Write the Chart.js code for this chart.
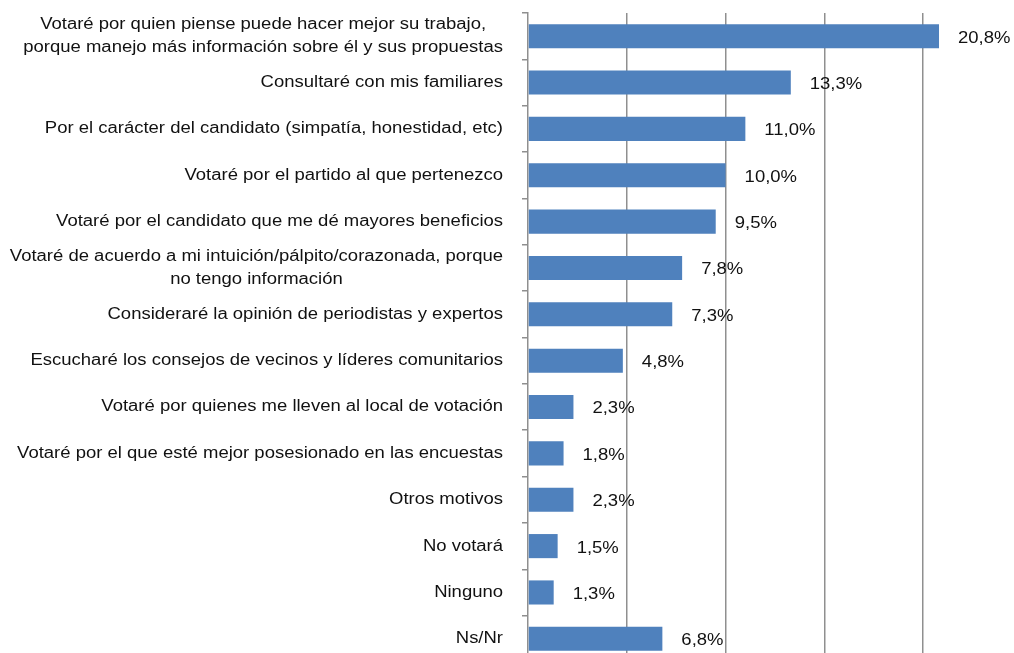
<!DOCTYPE html>
<html>
<head>
<meta charset="utf-8">
<script src="https://cdn.jsdelivr.net/npm/chart.js@4/dist/chart.umd.min.js"></script>
<style>
  html, body { margin: 0; padding: 0; background: #fff; }
  #wrap { width: 1014px; height: 653px; overflow: hidden; position: relative; }
  #chart { display: block; }
</style>
</head>
<body>
<div id="wrap"><canvas id="chart" width="1022" height="662"></canvas></div>
<script>
const categories = [
  ['Votaré por quien piense puede hacer mejor su trabajo,', 'porque manejo más información sobre él y sus propuestas'],
  ['Consultaré con mis familiares'],
  ['Por el carácter del candidato (simpatía, honestidad, etc)'],
  ['Votaré por el partido al que pertenezco'],
  ['Votaré por el candidato que me dé mayores beneficios'],
  ['Votaré de acuerdo a mi intuición/pálpito/corazonada, porque', 'no tengo información'],
  ['Consideraré la opinión de periodistas y expertos'],
  ['Escucharé los consejos de vecinos y líderes comunitarios'],
  ['Votaré por quienes me lleven al local de votación'],
  ['Votaré por el que esté mejor posesionado en las encuestas'],
  ['Otros motivos'],
  ['No votará'],
  ['Ninguno'],
  ['Ns/Nr']
];
const values = [20.8, 13.3, 11.0, 10.0, 9.5, 7.8, 7.3, 4.8, 2.3, 1.8, 2.3, 1.5, 1.3, 6.8];
const valueLabels = values.map(v => v.toFixed(1).replace('.', ',') + '%');

const FONT = '16px "Liberation Sans", Arial, sans-serif';
const STRETCH = 1.155; // the reference text is a bit wider than the font

function wideText(ctx, text, x, y, align) {
  const w = ctx.measureText(text).width * STRETCH;
  let left = x;
  if (align === 'center') left = x - w / 2;
  if (align === 'right') left = x - w;
  ctx.save();
  ctx.translate(left, y);
  ctx.scale(STRETCH, 1);
  ctx.textAlign = 'left';
  ctx.fillText(text, 0, 0);
  ctx.restore();
}

// draws the category labels (centred lines, right aligned block) and the value labels
const labelPlugin = {
  id: 'labels',
  afterDatasetsDraw(chart) {
    const ctx = chart.ctx;
    const y = chart.scales.y;
    const meta = chart.getDatasetMeta(0);
    ctx.save();
    ctx.font = FONT;
    ctx.fillStyle = '#111';
    ctx.textBaseline = 'middle';
    const right = 503;
    const lh = 23;
    categories.forEach((lines, i) => {
      const cy = y.getPixelForValue(i);
      const w = Math.max(...lines.map(l => ctx.measureText(l).width)) * STRETCH;
      const cx = right - w / 2;
      lines.forEach((l, k) => {
        wideText(ctx, l, cx, cy + (k - (lines.length - 1) / 2) * lh, 'center');
      });
    });
    meta.data.forEach((bar, i) => {
      wideText(ctx, valueLabels[i], bar.x + 19, bar.y + 2, 'left');
    });
    ctx.restore();
  }
};

new Chart(document.getElementById('chart'), {
  type: 'bar',
  data: {
    labels: categories.map(c => c.join(' ')),
    datasets: [{
      data: values,
      backgroundColor: '#4F81BD',
      borderWidth: 0,
      barPercentage: 0.52,
      categoryPercentage: 1
    }]
  },
  options: {
    indexAxis: 'y',
    responsive: false,
    animation: false,
    layout: { padding: { top: 13, left: 0, right: 0, bottom: 0 } },
    plugins: { legend: { display: false }, tooltip: { enabled: false } },
    scales: {
      x: {
        min: 0,
        max: 25,
        ticks: { display: false, stepSize: 5 },
        grid: {
          drawTicks: false,
          color: ctx => ctx.tick && ctx.tick.value === 0 ? 'rgba(0,0,0,0)' : '#8f8f8f',
          lineWidth: 1.5
        },
        border: { display: false },
        afterFit: s => { s.height = 0; }
      },
      y: {
        ticks: { display: false },
        grid: {
          drawOnChartArea: false,
          tickLength: 6,
          color: '#8f8f8f',
          lineWidth: 1.5,
          offset: true
        },
        border: { color: '#8f8f8f', width: 1.5 },
        afterFit: s => { s.width = 528; }
      }
    }
  },
  plugins: [labelPlugin]
});
</script>
</body>
</html>
